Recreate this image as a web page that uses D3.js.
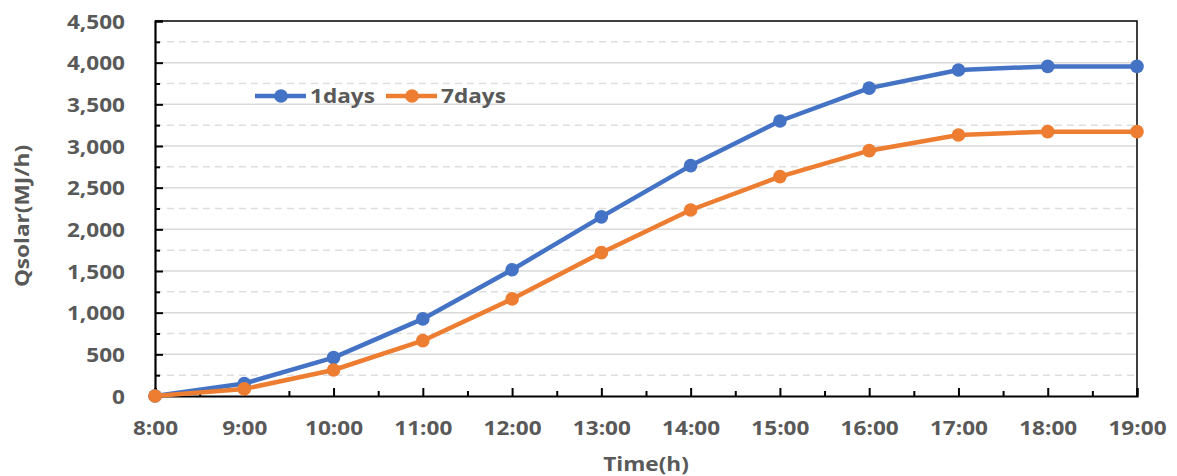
<!DOCTYPE html>
<html>
<head>
<meta charset="utf-8">
<script src="https://cdn.jsdelivr.net/npm/d3@7"></script>
<style>
  html, body { margin: 0; padding: 0; background: #fff; }
  svg { display: block; }
  text { font-family: "Open Sans", sans-serif; font-weight: 700; fill: #595959; }
</style>
</head>
<body>
<svg id="chart" width="1177" height="476"></svg>
<script>
// Hourly solar heat gain (MJ/h)
const hours = [8, 9, 10, 11, 12, 13, 14, 15, 16, 17, 18, 19];
const hourLabels = ["8:00", "9:00", "10:00", "11:00", "12:00", "13:00", "14:00", "15:00", "16:00", "17:00", "18:00", "19:00"];
const oneDay = [0, 150, 460, 925, 1515, 2150, 2765, 3300, 3695, 3912, 3955, 3955];
const sevenDays = [0, 85, 312, 664, 1165, 1720, 2232, 2632, 2944, 3132, 3172, 3172];
const yTicks = [0, 500, 1000, 1500, 2000, 2500, 3000, 3500, 4000, 4500];
const yMinorTicks = [250, 750, 1250, 1750, 2250, 2750, 3250, 3750, 4250];
const seriesNames = ["1days", "7days"];
const colors = ["#4472C4", "#ED7D31"];

const svg = d3.select("#chart");
const plotLeft = 155, plotRight = 1137, plotTop = 21, plotBottom = 396;
const SX = 1.13; // horizontal stretch of the label lettering

const x = d3.scaleLinear().domain([8, 19]).range([plotLeft, plotRight]);
const y = d3.scaleLinear().domain([0, 4500]).range([plotBottom, plotTop]);

// gridlines
const grid = svg.append("g");
grid.selectAll("line.major").data(yTicks.filter(v => v > 0 && v < 4500)).join("line")
  .attr("class", "major")
  .attr("x1", plotLeft).attr("x2", plotRight)
  .attr("y1", d => y(d)).attr("y2", d => y(d))
  .attr("stroke", "#d9d9d9").attr("stroke-width", 1.5);
grid.selectAll("line.minor").data(yMinorTicks).join("line")
  .attr("class", "minor")
  .attr("x1", plotLeft).attr("x2", plotRight)
  .attr("y1", d => y(d)).attr("y2", d => y(d))
  .attr("stroke", "#dedede").attr("stroke-width", 1.5)
  .attr("stroke-dasharray", "7,5");

// top and right frame
svg.append("path")
  .attr("d", `M${plotLeft},${plotTop}H${plotRight}V${plotBottom}`)
  .attr("fill", "none").attr("stroke", "#000").attr("stroke-width", 1.5);

// y axis
const yMinor = svg.append("g").attr("transform", `translate(${plotLeft},0)`)
  .call(d3.axisLeft(y).tickValues(yMinorTicks).tickSize(-5).tickFormat(""));
yMinor.select(".domain").remove();
yMinor.selectAll("line").attr("stroke", "#000").attr("stroke-width", 2);

const yAxis = svg.append("g").attr("transform", `translate(${plotLeft},0)`)
  .call(d3.axisLeft(y).tickValues(yTicks).tickSize(-8).tickPadding(0).tickFormat(d3.format(",")));
yAxis.select(".domain").attr("stroke", "#000").attr("stroke-width", 2.2);
yAxis.selectAll("line").attr("stroke", "#000").attr("stroke-width", 2);
yAxis.selectAll("text")
  .attr("x", -30 / SX).attr("dy", "0.35em")
  .attr("transform", `scale(${SX},1)`)
  .style("font-size", "20px").style("font-family", "'Open Sans', sans-serif").style("font-weight", 700)
  .attr("fill", "#595959");

// x axis
const xMinor = svg.append("g").attr("transform", `translate(0,${plotBottom})`)
  .call(d3.axisBottom(x).tickValues(hours.slice(0, -1).map(h => h + 0.5)).tickSize(-5).tickFormat(""));
xMinor.select(".domain").remove();
xMinor.selectAll("line").attr("stroke", "#000").attr("stroke-width", 2);

const xAxis = svg.append("g").attr("transform", `translate(0,${plotBottom})`)
  .call(d3.axisBottom(x).tickValues(hours).tickSize(-8).tickPadding(0)
    .tickFormat((d, i) => hourLabels[i]));
xAxis.select(".domain").attr("stroke", "#000").attr("stroke-width", 2.2);
xAxis.selectAll("line").attr("stroke", "#000").attr("stroke-width", 2);
xAxis.selectAll("text")
  .attr("y", 39).attr("dy", null)
  .attr("transform", `scale(${SX},1)`)
  .style("font-size", "20px").style("font-family", "'Open Sans', sans-serif").style("font-weight", 700)
  .attr("fill", "#595959");

// axis titles
svg.append("text")
  .attr("transform", `translate(646,471) scale(${SX},1)`)
  .attr("text-anchor", "middle")
  .style("font-size", "20px")
  .text("Time(h)");
svg.append("text")
  .attr("transform", `translate(29,216) rotate(-90) scale(${SX},1)`)
  .attr("text-anchor", "middle")
  .style("font-size", "20px")
  .text("Qsolar(MJ/h)");

// series
const line = d3.line().x((d, i) => x(hours[i])).y(d => y(d));
[oneDay, sevenDays].forEach((vals, k) => {
  svg.append("path").datum(vals)
    .attr("d", line)
    .attr("fill", "none").attr("stroke", colors[k]).attr("stroke-width", 4.5)
    .attr("stroke-linejoin", "round");
  svg.append("g").selectAll("circle").data(vals).join("circle")
    .attr("cx", (d, i) => x(hours[i])).attr("cy", d => y(d))
    .attr("r", 6.8).attr("fill", colors[k]);
});

// legend
const legend = svg.append("g");
const legendX = [255, 386];
seriesNames.forEach((name, k) => {
  const g = legend.append("g").attr("transform", `translate(${legendX[k]},96)`);
  g.append("line").attr("x1", 0).attr("x2", 51).attr("y1", 0).attr("y2", 0)
    .attr("stroke", colors[k]).attr("stroke-width", 4.5);
  g.append("circle").attr("cx", 26).attr("cy", 0).attr("r", 6.8).attr("fill", colors[k]);
  g.append("text").attr("transform", `translate(55,7) scale(${SX},1)`)
    .style("font-size", "20px").text(name);
});
</script>
</body>
</html>
